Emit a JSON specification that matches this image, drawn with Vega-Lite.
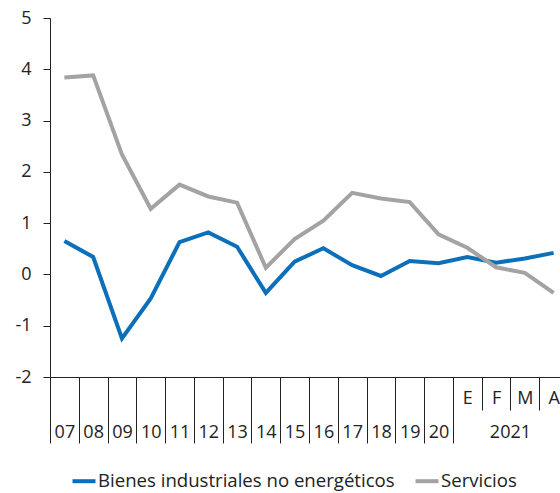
{
  "$schema": "https://vega.github.io/schema/vega-lite/v6.json",
  "width": 510,
  "height": 359,
  "autosize": "none",
  "padding": {"left": 50, "top": 18, "right": 0, "bottom": 116},
  "background": "white",
  "config": {"view": {"stroke": null}, "font": "Open Sans", "text": {"font": "Open Sans"}},
  "layer": [
    {
      "data": {"values": [
        {"periodo": "07", "serie": "Bienes industriales no energéticos", "valor": 0.65},
        {"periodo": "08", "serie": "Bienes industriales no energéticos", "valor": 0.34},
        {"periodo": "09", "serie": "Bienes industriales no energéticos", "valor": -1.25},
        {"periodo": "10", "serie": "Bienes industriales no energéticos", "valor": -0.47},
        {"periodo": "11", "serie": "Bienes industriales no energéticos", "valor": 0.63},
        {"periodo": "12", "serie": "Bienes industriales no energéticos", "valor": 0.82},
        {"periodo": "13", "serie": "Bienes industriales no energéticos", "valor": 0.54},
        {"periodo": "14", "serie": "Bienes industriales no energéticos", "valor": -0.36},
        {"periodo": "15", "serie": "Bienes industriales no energéticos", "valor": 0.25},
        {"periodo": "16", "serie": "Bienes industriales no energéticos", "valor": 0.51},
        {"periodo": "17", "serie": "Bienes industriales no energéticos", "valor": 0.18},
        {"periodo": "18", "serie": "Bienes industriales no energéticos", "valor": -0.03},
        {"periodo": "19", "serie": "Bienes industriales no energéticos", "valor": 0.26},
        {"periodo": "20", "serie": "Bienes industriales no energéticos", "valor": 0.22},
        {"periodo": "E", "serie": "Bienes industriales no energéticos", "valor": 0.34},
        {"periodo": "F", "serie": "Bienes industriales no energéticos", "valor": 0.23},
        {"periodo": "M", "serie": "Bienes industriales no energéticos", "valor": 0.31},
        {"periodo": "A", "serie": "Bienes industriales no energéticos", "valor": 0.42},
        {"periodo": "07", "serie": "Servicios", "valor": 3.84},
        {"periodo": "08", "serie": "Servicios", "valor": 3.88},
        {"periodo": "09", "serie": "Servicios", "valor": 2.34},
        {"periodo": "10", "serie": "Servicios", "valor": 1.28},
        {"periodo": "11", "serie": "Servicios", "valor": 1.75},
        {"periodo": "12", "serie": "Servicios", "valor": 1.52},
        {"periodo": "13", "serie": "Servicios", "valor": 1.40},
        {"periodo": "14", "serie": "Servicios", "valor": 0.13},
        {"periodo": "15", "serie": "Servicios", "valor": 0.69},
        {"periodo": "16", "serie": "Servicios", "valor": 1.05},
        {"periodo": "17", "serie": "Servicios", "valor": 1.59},
        {"periodo": "18", "serie": "Servicios", "valor": 1.48},
        {"periodo": "19", "serie": "Servicios", "valor": 1.41},
        {"periodo": "20", "serie": "Servicios", "valor": 0.78},
        {"periodo": "E", "serie": "Servicios", "valor": 0.52},
        {"periodo": "F", "serie": "Servicios", "valor": 0.14},
        {"periodo": "M", "serie": "Servicios", "valor": 0.03},
        {"periodo": "A", "serie": "Servicios", "valor": -0.36}
      ]},
      "mark": {"type": "line", "strokeWidth": 4, "clip": false},
      "encoding": {
        "x": {
          "field": "periodo", "type": "ordinal", "bandPosition": 0.5,
          "scale": {"type": "band", "domain": ["07","08","09","10","11","12","13","14","15","16","17","18","19","20","E","F","M","A"], "range": [0, 518], "paddingInner": 0, "paddingOuter": 0},
          "axis": {
            "title": null,
            "tickBand": "extent",
            "labelAngle": 0,
            "labelFontSize": 18,
            "labelColor": "#222",
            "domainColor": "#222",
            "tickColor": "#222",
            "domainWidth": 1,
            "tickWidth": 1,
            "labelOverlap": false,
            "labelBound": false,
            "tickSize": {"condition": {"test": "indexof(['E','F','M'], datum.value) >= 0", "value": 33}, "value": 66},
            "labelPadding": {"condition": [
              {"test": "indexof(['E','F','M'], datum.value) >= 0", "value": -21},
              {"test": "datum.value == 'A'", "value": -54}
            ], "value": -20},
            "labelBaseline": "top"
          }
        },
        "y": {
          "field": "valor", "type": "quantitative",
          "scale": {"domain": [-2, 5], "nice": false, "zero": false},
          "axis": {"title": null, "values": [-2,-1,0,1,2,3,4,5], "labelExpr": "toString(datum.value)", "grid": false, "tickSize": 7, "labelPadding": 12, "labelFontSize": 18, "labelColor": "#222", "domainColor": "#222", "tickColor": "#222"}
        },
        "color": {
          "field": "serie", "type": "nominal",
          "scale": {"domain": ["Bienes industriales no energéticos", "Servicios"], "range": ["#0C6FBA", "#A3A3A3"]},
          "legend": {"title": null, "orient": "none", "legendX": 20, "legendY": 449, "direction": "horizontal", "symbolType": "stroke", "symbolStrokeWidth": 4, "symbolSize": 530, "labelFontSize": 18.6, "labelColor": "#222", "columnPadding": 12, "labelOffset": 0, "labelLimit": 400}
        }
      }
    },
    {
      "data": {"values": [{"periodo": "M", "texto": "2021"}]},
      "mark": {"type": "text", "fontSize": 18, "dy": 56, "baseline": "middle", "align": "center", "color": "#222"},
      "encoding": {
        "x": {"field": "periodo", "type": "ordinal", "bandPosition": 0},
        "y": {"datum": -2},
        "text": {"field": "texto"}
      }
    }
  ]
}
